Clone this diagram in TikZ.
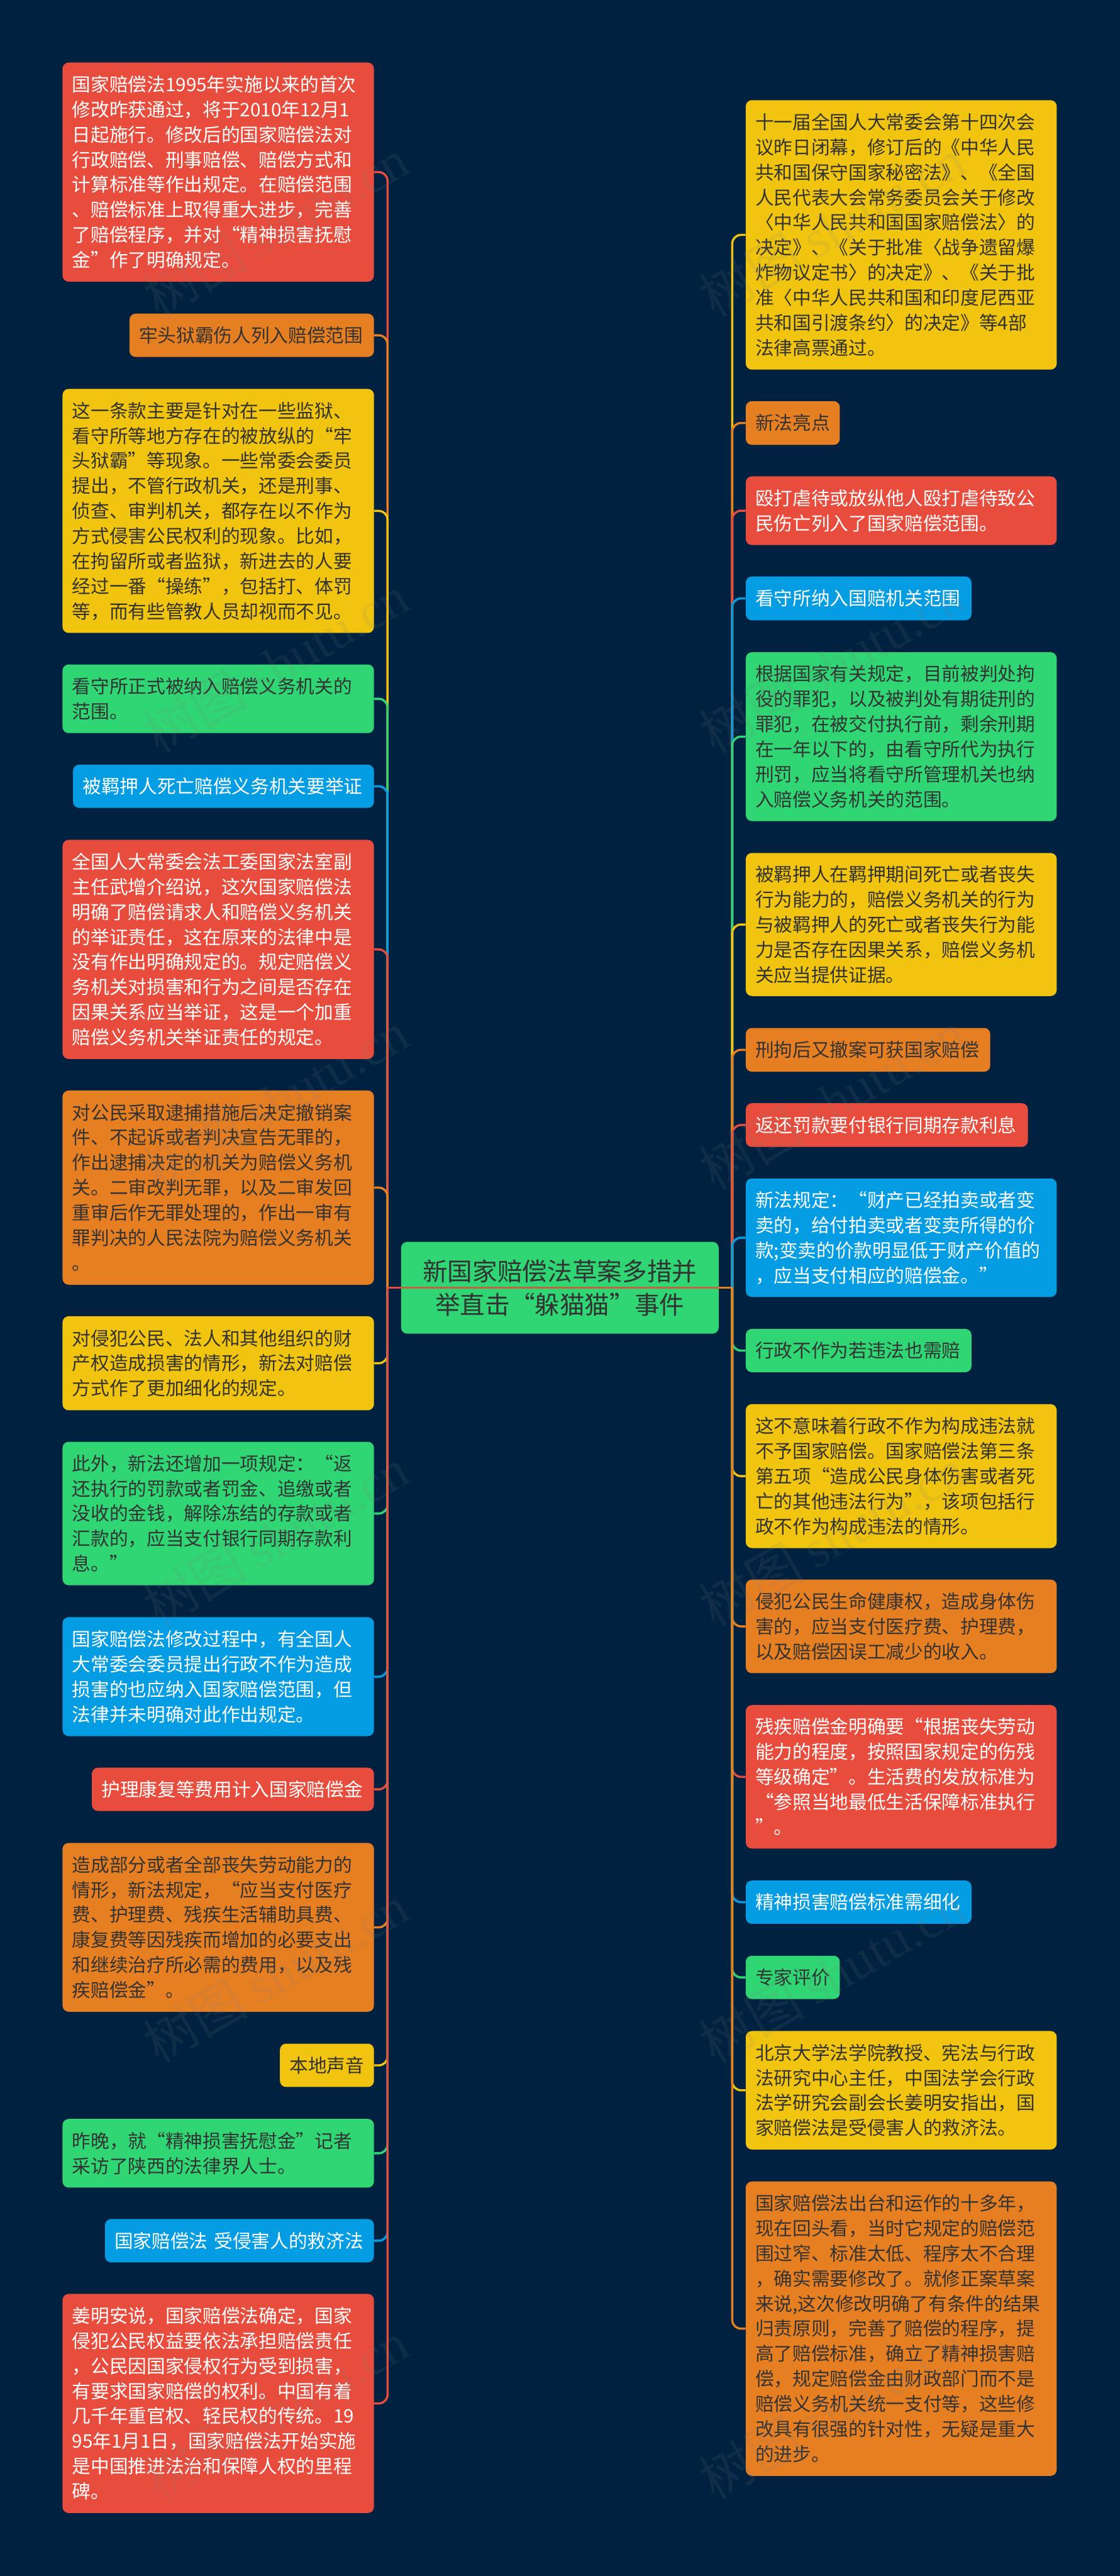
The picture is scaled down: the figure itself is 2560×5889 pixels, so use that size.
\documentclass[tikz,border=0pt]{standalone}
\usepackage{fontspec}
\setmainfont{Noto Sans CJK SC}
\newfontfamily\wmlatin{Liberation Serif}
\definecolor{cbg}{HTML}{00213F}
\definecolor{cred}{HTML}{E74C3C}
\definecolor{corange}{HTML}{E67E22}
\definecolor{cyellow}{HTML}{F1C40F}
\definecolor{cgreen}{HTML}{2FD673}
\definecolor{cblue}{HTML}{049CE2}
\definecolor{cdark}{HTML}{333333}
\definecolor{cmix}{HTML}{C8613F}
\tikzset{
  card/.style={rectangle,rounded corners=7pt,inner sep=0pt,align=left,
    font=\fontsize{21.33pt}{28.65pt}\selectfont,
    execute at begin node={\rule[-0.12em]{0pt}{1em}},
    execute at end node={\rule[-0.12em]{0pt}{1em}}},
  redcard/.style={card,fill=cred,text=white},
  orangecard/.style={card,fill=corange,text=cdark},
  yellowcard/.style={card,fill=cyellow,text=cdark},
  greencard/.style={card,fill=cgreen,text=cdark},
  bluecard/.style={card,fill=cblue,text=white},
  rootcard/.style={rectangle,rounded corners=7pt,inner sep=0pt,align=center,
    fill=cgreen,text=cdark,font=\fontsize{28.5pt}{38.5pt}\selectfont},
  link/.style={line width=2.5pt,rounded corners=10pt},
  rootlink/.style={line width=2.5pt},
  wmark/.style={rotate=30,text=gray,opacity=0.13,inner sep=0pt,
    font=\fontsize{60pt}{60pt}\selectfont}
}
\newcommand{\cardat}[7]{%
  \pgfmathsetmacro{\cardw}{(#4-#2)*0.5}%
  \pgfmathsetmacro{\cardh}{(#5-#3)*0.5}%
  \pgfmathsetmacro{\cardt}{(#4-#2-44)*0.5}%
  \node[#6,minimum width=\cardw pt,minimum height=\cardh pt,text width=\cardt pt]
    (#1) at ({(#2+#4)/2},{(#3+#5)/2}) {#7};%
}
\begin{document}
\begin{tikzpicture}[x=0.5pt,y=-0.5pt]
\fill[cbg] (0,0) rectangle (2560,5889);
\useasboundingbox (0,0) rectangle (2560,5889);
\coordinate (hubL) at (886,2944);
\coordinate (hubR) at (1674,2944);
% left column
\cardat{L1}{143}{143}{855}{644}{redcard}{国家赔偿法1995年实施以来的首次\\修改昨获通过，将于2010年12月1\\日起施行。修改后的国家赔偿法对\\行政赔偿、刑事赔偿、赔偿方式和\\计算标准等作出规定。在赔偿范围\\、赔偿标准上取得重大进步，完善\\了赔偿程序，并对“精神损害抚慰\\金”作了明确规定。}
\cardat{L2}{296}{717}{855}{816}{orangecard}{牢头狱霸伤人列入赔偿范围}
\cardat{L3}{143}{889}{855}{1447}{yellowcard}{这一条款主要是针对在一些监狱、\\看守所等地方存在的被放纵的“牢\\头狱霸”等现象。一些常委会委员\\提出，不管行政机关，还是刑事、\\侦查、审判机关，都存在以不作为\\方式侵害公民权利的现象。比如，\\在拘留所或者监狱，新进去的人要\\经过一番“操练”，包括打、体罚\\等，而有些管教人员却视而不见。}
\cardat{L4}{143}{1519}{855}{1676}{greencard}{看守所正式被纳入赔偿义务机关的\\范围。}
\cardat{L5}{167}{1748}{855}{1847}{bluecard}{被羁押人死亡赔偿义务机关要举证}
\cardat{L6}{143}{1920}{855}{2421}{redcard}{全国人大常委会法工委国家法室副\\主任武增介绍说，这次国家赔偿法\\明确了赔偿请求人和赔偿义务机关\\的举证责任，这在原来的法律中是\\没有作出明确规定的。规定赔偿义\\务机关对损害和行为之间是否存在\\因果关系应当举证，这是一个加重\\赔偿义务机关举证责任的规定。}
\cardat{L7}{143}{2493}{855}{2937}{orangecard}{对公民采取逮捕措施后决定撤销案\\件、不起诉或者判决宣告无罪的，\\作出逮捕决定的机关为赔偿义务机\\关。二审改判无罪，以及二审发回\\重审后作无罪处理的，作出一审有\\罪判决的人民法院为赔偿义务机关\\。}
\cardat{L8}{143}{3009}{855}{3224}{yellowcard}{对侵犯公民、法人和其他组织的财\\产权造成损害的情形，新法对赔偿\\方式作了更加细化的规定。}
\cardat{L9}{143}{3296}{855}{3624}{greencard}{此外，新法还增加一项规定：“返\\还执行的罚款或者罚金、追缴或者\\没收的金钱，解除冻结的存款或者\\汇款的，应当支付银行同期存款利\\息。”}
\cardat{L10}{143}{3697}{855}{3969}{bluecard}{国家赔偿法修改过程中，有全国人\\大常委会委员提出行政不作为造成\\损害的也应纳入国家赔偿范围，但\\法律并未明确对此作出规定。}
\cardat{L11}{210}{4041}{855}{4140}{redcard}{护理康复等费用计入国家赔偿金}
\cardat{L12}{143}{4213}{855}{4599}{orangecard}{造成部分或者全部丧失劳动能力的\\情形，新法规定，“应当支付医疗\\费、护理费、残疾生活辅助具费、\\康复费等因残疾而增加的必要支出\\和继续治疗所必需的费用，以及残\\疾赔偿金”。}
\cardat{L13}{640}{4672}{855}{4771}{yellowcard}{本地声音}
\cardat{L14}{143}{4844}{855}{5001}{greencard}{昨晚，就“精神损害抚慰金”记者\\采访了陕西的法律界人士。}
\cardat{L15}{240}{5073}{855}{5172}{bluecard}{国家赔偿法~受侵害人的救济法}
\cardat{L16}{143}{5244}{855}{5745}{redcard}{姜明安说，国家赔偿法确定，国家\\侵犯公民权益要依法承担赔偿责任\\，公民因国家侵权行为受到损害，\\有要求国家赔偿的权利。中国有着\\几千年重官权、轻民权的传统。19\\95年1月1日，国家赔偿法开始实施\\是中国推进法治和保障人权的里程\\碑。}
% right column
\cardat{R1}{1705}{229}{2416}{845}{yellowcard}{十一届全国人大常委会第十四次会\\议昨日闭幕，修订后的《中华人民\\共和国保守国家秘密法》、《全国\\人民代表大会常务委员会关于修改\\〈中华人民共和国国家赔偿法〉的\\决定》、《关于批准〈战争遗留爆\\炸物议定书〉的决定》、《关于批\\准〈中华人民共和国和印度尼西亚\\共和国引渡条约〉的决定》等4部\\法律高票通过。}
\cardat{R2}{1705}{917}{1920}{1017}{orangecard}{新法亮点}
\cardat{R3}{1705}{1089}{2416}{1246}{redcard}{殴打虐待或放纵他人殴打虐待致公\\民伤亡列入了国家赔偿范围。}
\cardat{R4}{1705}{1318}{2221}{1418}{bluecard}{看守所纳入国赔机关范围}
\cardat{R5}{1705}{1491}{2416}{1877}{greencard}{根据国家有关规定，目前被判处拘\\役的罪犯，以及被判处有期徒刑的\\罪犯，在被交付执行前，剩余刑期\\在一年以下的，由看守所代为执行\\刑罚，应当将看守所管理机关也纳\\入赔偿义务机关的范围。}
\cardat{R6}{1705}{1950}{2416}{2277}{yellowcard}{被羁押人在羁押期间死亡或者丧失\\行为能力的，赔偿义务机关的行为\\与被羁押人的死亡或者丧失行为能\\力是否存在因果关系，赔偿义务机\\关应当提供证据。}
\cardat{R7}{1705}{2350}{2264}{2450}{orangecard}{刑拘后又撤案可获国家赔偿}
\cardat{R8}{1705}{2522}{2350}{2622}{redcard}{返还罚款要付银行同期存款利息}
\cardat{R9}{1705}{2694}{2416}{2965}{bluecard}{新法规定：“财产已经拍卖或者变\\卖的，给付拍卖或者变卖所得的价\\款;变卖的价款明显低于财产价值的\\，应当支付相应的赔偿金。”}
\cardat{R10}{1705}{3038}{2221}{3137}{greencard}{行政不作为若违法也需赔}
\cardat{R11}{1705}{3210}{2416}{3539}{yellowcard}{这不意味着行政不作为构成违法就\\不予国家赔偿。国家赔偿法第三条\\第五项“造成公民身体伤害或者死\\亡的其他违法行为”，该项包括行\\政不作为构成违法的情形。}
\cardat{R12}{1705}{3611}{2416}{3825}{orangecard}{侵犯公民生命健康权，造成身体伤\\害的，应当支付医疗费、护理费，\\以及赔偿因误工减少的收入。}
\cardat{R13}{1705}{3898}{2416}{4226}{redcard}{残疾赔偿金明确要“根据丧失劳动\\能力的程度，按照国家规定的伤残\\等级确定”。生活费的发放标准为\\“参照当地最低生活保障标准执行\\”。}
\cardat{R14}{1705}{4299}{2221}{4398}{bluecard}{精神损害赔偿标准需细化}
\cardat{R15}{1705}{4471}{1920}{4570}{greencard}{专家评价}
\cardat{R16}{1705}{4643}{2416}{4914}{yellowcard}{北京大学法学院教授、宪法与行政\\法研究中心主任，中国法学会行政\\法学研究会副会长姜明安指出，国\\家赔偿法是受侵害人的救济法。}
\cardat{R17}{1705}{4987}{2416}{5660}{orangecard}{国家赔偿法出台和运作的十多年，\\现在回头看，当时它规定的赔偿范\\围过窄、标准太低、程序太不合理\\，确实需要修改了。就修正案草案\\来说,这次修改明确了有条件的结果\\归责原则，完善了赔偿的程序，提\\高了赔偿标准，确立了精神损害赔\\偿，规定赔偿金由财政部门而不是\\赔偿义务机关统一支付等，这些修\\改具有很强的针对性，无疑是重大\\的进步。}
% root
\node[rootcard,minimum width=363pt,minimum height=105pt] (root) at (1280,2944) {新国家赔偿法草案多措并\\举直击“躲猫猫”事件};
% connectors
\foreach \n/\c in {L1/cred,L2/corange,L3/cyellow,L4/cgreen,L5/cblue,L6/cred,L7/corange,L8/cyellow,L9/cgreen,L10/cblue,L11/cred,L12/corange,L13/cyellow,L14/cgreen,L15/cblue,L16/cred}
  \draw[link,\c] (hubL) |- (\n.east);
\foreach \n/\c in {R1/cyellow,R2/corange,R3/cred,R4/cblue,R5/cgreen,R6/cyellow,R7/corange,R8/cred,R9/cblue,R10/cgreen,R11/cyellow,R12/corange,R13/cred,R14/cblue,R15/cgreen,R16/cyellow,R17/corange}
  \draw[link,\c] (hubR) |- (\n.west);
\draw[rootlink,cred] (hubL) -- (root.west);
\draw[rootlink,cmix] (root.west) -- (root.east);
\draw[rootlink,corange] (root.east) -- (hubR);
% watermarks
\foreach \i in {0,1}
  \foreach \j in {0,...,5} {
    \pgfmathsetmacro{\wx}{630+1272*\i}
    \pgfmathsetmacro{\wy}{520+998*\j}
    \node[wmark] (w\i\j) at (\wx,\wy) {树图 {\wmlatin shutu.cn}};
  }
\end{tikzpicture}
\end{document}
